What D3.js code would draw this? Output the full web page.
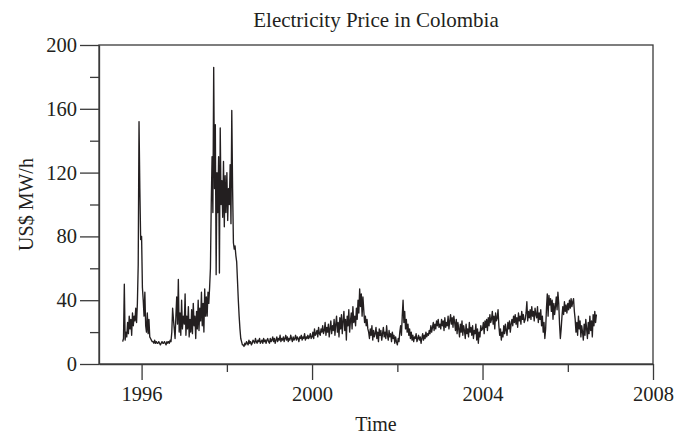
<!DOCTYPE html>
<html>
<head>
<meta charset="utf-8">
<script src="https://cdn.jsdelivr.net/npm/d3@7"></script>
<style>
  body { margin: 0; background: #fff; }
  svg text { font-family: 'Liberation Serif', 'Times New Roman', serif; fill: #231f20; }
</style>
</head>
<body>
<div id="chart"></div>
<script>
// weekly prices, US$ MW/h (1995 starts in July)
var price1995 = [14, 16, 50, 15, 20, 17, 26, 19, 30, 22, 28, 18, 32, 24, 30, 27, 35, 26, 38, 62, 152, 110, 78];
var price1996 = [80, 48, 40, 30, 45, 24, 20, 32, 19, 28, 17, 16, 15, 14,
    14, 13, 15, 13, 14, 13, 13, 14, 13, 12, 13, 14, 13, 13, 14, 13, 12, 14, 13, 14, 13, 15, 14,
    20, 35, 28, 22, 16, 30, 42, 25, 53, 20, 32, 18, 40, 22, 30];
var price1997 = [25, 44, 18, 30, 22, 36, 17, 28, 20, 34, 19, 38, 24, 30, 16, 33, 22, 40, 21, 35,
    27, 45, 24, 38, 20, 47, 30, 42, 30, 45, 38, 48, 60, 100, 130, 95, 186, 110, 150, 56,
    120, 95, 130, 57, 148, 100, 115, 92, 127, 86, 118, 95];
var price1998 = [120, 90, 110, 100, 125, 88, 159, 110, 76, 72, 74, 68, 64, 52, 40, 30, 22, 16, 14, 12,
    12, 11, 13, 12, 14, 13, 12, 15, 13, 14, 12, 13, 15, 14, 13, 16, 14, 13, 15, 14,
    16, 13, 14, 15, 13, 16, 14, 15, 13, 15, 16, 14];
var price1999 = [13, 16, 14, 15, 17, 14, 16, 13, 15, 17, 14, 16, 15, 18, 14, 16, 15, 17, 14, 16,
    18, 15, 17, 14, 16, 15, 18, 16, 14, 17, 15, 16, 18, 15, 17, 16, 14, 17, 16, 18,
    15, 17, 16, 19, 15, 17, 16, 18, 16, 17, 19, 16];
var price2000 = [17, 20, 16, 22, 18, 19, 21, 17, 23, 19, 18, 22, 20, 24, 19, 21, 26, 18, 23, 20,
    25, 17, 22, 27, 19, 24, 21, 28, 18, 25, 30, 20, 26, 17, 29, 22, 31, 19, 27, 33,
    21, 28, 15, 30, 24, 34, 20, 27, 32, 22, 36, 26];
var price2001 = [30, 24, 35, 28, 40, 32, 47, 36, 44, 30, 42, 34, 26, 30, 24, 28, 22,
    20, 16, 22, 18, 24, 15, 21, 17, 19, 23, 16, 20, 14, 22, 18, 21, 15, 19, 23, 17,
    20, 16, 24, 18, 15, 21, 17, 19, 14, 20, 16, 18, 13, 17, 14];
var price2002 = [12, 16, 14, 20, 24, 18, 30, 40, 26, 33, 22, 28, 20, 25, 18, 22, 16, 20,
    15, 18, 14, 17, 16, 19, 14, 16, 18, 15, 17, 13, 16, 19, 15, 18, 16, 20, 17, 19, 18,
    21, 19, 24, 20, 23, 26, 21, 25, 22, 27, 24, 28, 23];
var price2003 = [25, 22, 28, 24, 27, 21, 29, 23, 26, 24, 30, 22, 27, 31, 25, 29, 23, 30, 26, 21,
    28, 19, 26, 22, 17, 25, 20, 27, 18, 24, 21, 16, 25, 19, 22, 17, 26, 20, 23,
    18, 24, 16, 21, 19, 25, 15, 22, 13, 20, 17, 24, 21];
var price2004 = [22, 26, 19, 27, 23, 28, 21, 29, 24, 31, 26, 28, 33, 25, 30, 22, 32, 27, 29, 34, 24,
    18, 22, 15, 20, 17, 24, 19, 25, 21, 18, 26, 22, 27, 20, 25,
    28, 24, 30, 26, 31, 25, 29, 23, 32, 27, 30, 25, 33, 28, 31, 26];
var price2005 = [28, 32, 39, 27, 33, 29, 34, 28, 36, 30, 33, 27, 35, 31, 29, 36, 26, 32, 28, 34,
    24, 30, 20, 26, 16, 22, 35, 44, 30, 43, 37, 41, 33, 40, 28, 38, 31, 36,
    42, 34, 45, 38, 25, 16, 22, 30, 36, 31, 39, 33, 37, 32];
var price2006 = [38, 34, 40, 35, 41, 36, 39, 41, 33, 28, 20, 26, 18, 30, 22, 27, 17, 24, 20, 15,
    25, 18, 28, 22, 16, 26, 19, 30, 21, 27, 17, 31, 24, 33, 26, 31];

var xMajorYears = [1996, 2000, 2004, 2008];
var xMinorYears = [1998, 2002, 2006];
var yMajorTicks = [0, 40, 80, 120, 160, 200];
var yMinorTicks = [20, 60, 100, 140, 180];

var priceByYear = [
    [1995, price1995], [1996, price1996], [1997, price1997], [1998, price1998],
    [1999, price1999], [2000, price2000], [2001, price2001], [2002, price2002],
    [2003, price2003], [2004, price2004], [2005, price2005], [2006, price2006]
];

var data = [];
priceByYear.forEach(function(p) {
    // the first year only has its last weeks
    var firstWeek = p[0] === 1995 ? 52 - p[1].length : 0;
    p[1].forEach(function(v, i) {
        data.push({
            date: d3.timeDay.offset(new Date(p[0], 0, 1), (firstWeek + i) * 7),
            value: v
        });
    });
});

var width = 684, height = 437;
// plot box edges (window.top is taken, so no bare "top")
var plotLeft = 99, plotRight = 653, plotTop = 45, plotBottom = 364;

var svg = d3.select('#chart').append('svg')
    .attr('width', width)
    .attr('height', height);

var x = d3.scaleTime()
    .domain([new Date(1995, 0, 1), new Date(2008, 0, 1)])
    .range([plotLeft, plotRight]);

var y = d3.scaleLinear()
    .domain([0, 200])
    .range([plotBottom, plotTop]);

function yearDate(yr) { return new Date(yr, 0, 1); }

// frame
svg.append('rect')
    .attr('x', plotLeft)
    .attr('y', plotTop)
    .attr('width', plotRight - plotLeft)
    .attr('height', plotBottom - plotTop)
    .attr('fill', 'none')
    .attr('stroke', '#3a3a3a')
    .attr('stroke-width', 1.3);

// x axis
svg.append('g')
    .attr('transform', 'translate(0,' + plotBottom + ')')
    .call(d3.axisBottom(x)
        .tickValues(xMajorYears.map(yearDate))
        .tickSize(16)
        .tickSizeOuter(0)
        .tickPadding(6)
        .tickFormat(d3.timeFormat('%Y')));

var xMinor = svg.append('g')
    .attr('transform', 'translate(0,' + plotBottom + ')')
    .call(d3.axisBottom(x)
        .tickValues(xMinorYears.map(yearDate))
        .tickSize(8)
        .tickSizeOuter(0)
        .tickFormat(''));
xMinor.select('.domain').remove();

// y axis
svg.append('g')
    .attr('transform', 'translate(' + plotLeft + ',0)')
    .call(d3.axisLeft(y)
        .tickValues(yMajorTicks)
        .tickSize(19)
        .tickSizeOuter(0)
        .tickPadding(3));

var yMinor = svg.append('g')
    .attr('transform', 'translate(' + plotLeft + ',0)')
    .call(d3.axisLeft(y)
        .tickValues(yMinorTicks)
        .tickSize(9)
        .tickSizeOuter(0)
        .tickFormat(''));
yMinor.select('.domain').remove();

svg.selectAll('.domain, .tick line')
    .attr('stroke', '#3a3a3a')
    .attr('stroke-width', 1.3);

svg.selectAll('.tick text')
    .attr('font-family', 'Liberation Serif')
    .attr('font-size', 20.5)
    .attr('fill', '#231f20');

// price line
var line = d3.line()
    .x(function(d) { return x(d.date); })
    .y(function(d) { return y(d.value); });

svg.append('path')
    .datum(data)
    .attr('d', line)
    .attr('fill', 'none')
    .attr('stroke', '#231f20')
    .attr('stroke-width', 1.35)
    .attr('stroke-linejoin', 'round');

// titles
svg.append('text')
    .attr('x', (plotLeft + plotRight) / 2)
    .attr('y', 27)
    .attr('text-anchor', 'middle')
    .attr('font-size', 21)
    .text('Electricity Price in Colombia');

svg.append('text')
    .attr('x', (plotLeft + plotRight) / 2)
    .attr('y', 431)
    .attr('text-anchor', 'middle')
    .attr('font-size', 20)
    .text('Time');

svg.append('text')
    .attr('transform', 'translate(33,' + (plotTop + plotBottom) / 2 + ') rotate(-90)')
    .attr('text-anchor', 'middle')
    .attr('font-size', 20)
    .text('US$ MW/h');
</script>
</body>
</html>
